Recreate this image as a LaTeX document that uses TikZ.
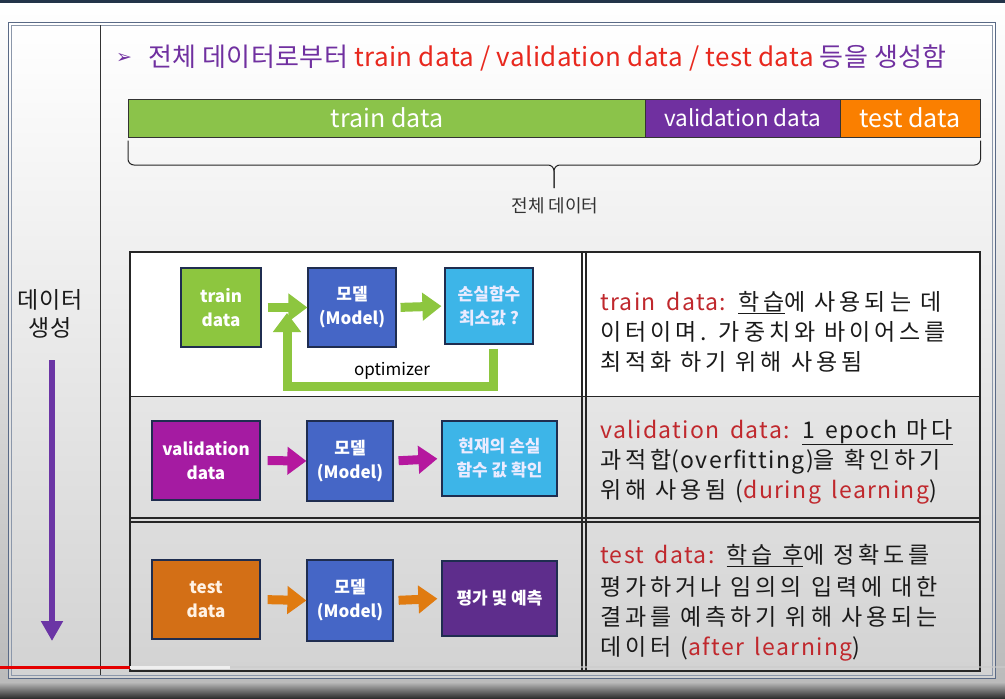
\documentclass[tikz,border=0pt]{standalone}
\usepackage{fontspec}
\setmainfont{Noto Sans CJK KR}
\newfontfamily\ttlf[LetterSpace=1.5]{Noto Sans CJK KR}
\newfontfamily\krw[LetterSpace=17]{Noto Sans CJK KR}
\newfontfamily\krl[LetterSpace=5]{Noto Sans CJK KR}
\newfontfamily\latf[LetterSpace=6,WordSpace=1.6]{Noto Sans CJK KR}
\newfontfamily\symf{DejaVu Sans}
\usetikzlibrary{arrows.meta,calc}
\definecolor{frameC}{HTML}{5A6A86}
\definecolor{topline}{HTML}{233449}
\definecolor{ttlpurple}{HTML}{7030A0}
\definecolor{ttlred}{HTML}{E8281E}
\definecolor{rred}{HTML}{C0282D}
\definecolor{barGreen}{HTML}{8BC34A}
\definecolor{barPurple}{HTML}{7030A0}
\definecolor{barOrange}{HTML}{FA7F00}
\definecolor{bxGreen}{HTML}{8DC63F}
\definecolor{bxBlue}{HTML}{4566C6}
\definecolor{bxLight}{HTML}{3DB5E8}
\definecolor{bxMag}{HTML}{A51BA2}
\definecolor{bxOrange}{HTML}{D36F16}
\definecolor{bxViolet}{HTML}{5E2D8C}
\definecolor{boxline}{HTML}{1F2D50}
\definecolor{arGreen}{HTML}{8DC63F}
\definecolor{arMag}{HTML}{B5179E}
\definecolor{arOrange}{HTML}{E07B10}
\definecolor{leftPurple}{HTML}{6B35A5}
\definecolor{txt}{HTML}{1A1A1A}
\begin{document}
\begin{tikzpicture}[x=1pt,y=-1pt,
  box/.style={draw=boxline, line width=1.2pt, inner sep=0pt, text=white, align=center,
    font=\bfseries\fontsize{17}{24}\selectfont},
  barbox/.style={draw=black!80, line width=1pt, inner sep=0pt, text=white,
    font=\fontsize{25}{28}\selectfont},
  flow/.style={line width=9pt, -{Triangle[length=19pt,width=27pt]}},
  desc/.style={anchor=base west, inner sep=0pt, text=txt, font=\krw\fontsize{23}{26}\selectfont},
  tline/.style={draw=black!85, line width=1.3pt}
]
\useasboundingbox (0,0) rectangle (1005,699);
% canvas
\shade[top color=white, bottom color=gray!55] (0,0) rectangle (1005,699);
\fill[topline] (0,0) rectangle (1005,2.5);
% slide
\shade[top color=white, bottom color=gray!35] (8,22) rectangle (995,678);
\draw[frameC, line width=1pt] (8,22) rectangle (995,678);
\draw[frameC!70, line width=0.8pt] (11,25) rectangle (992,675);
\draw[black!80, line width=1pt] (100,25) -- (100,675);
% bottom band
\shade[top color=gray!60, bottom color=gray!30!black] (0,683) rectangle (1005,699);

% title
\node[anchor=west, inner sep=0pt, text=ttlpurple, font=\symf\fontsize{19}{22}\selectfont] (bul) at (116,58) {➢};
\node[anchor=west, inner sep=0pt, font=\ttlf\fontsize{26}{30}\selectfont] (title) at (148,58)
  {\textcolor{ttlpurple}{전체 데이터로부터} \textcolor{ttlred}{train data / validation data / test data} \textcolor{ttlpurple}{등을 생성함}};

% data bar
\node[barbox, fill=barGreen, minimum width=517pt, minimum height=38pt] (bt) at (387,118) {train data};
\node[barbox, fill=barPurple, minimum width=195pt, minimum height=38pt, font=\fontsize{22.5}{28}\selectfont] (bv) at (742.5,118) {validation data};
\node[barbox, fill=barOrange, minimum width=140pt, minimum height=38pt] (bs) at (910,118) {test data};
% brace
\draw[black!85, line width=1pt, rounded corners=6pt] (bt.south west) ++(0,3) |- (554,165) -- (554,188);
\draw[black!85, line width=1pt, rounded corners=6pt] (bs.south east) ++(0,3) |- (554,165) -- (554,188);
\node[text=black!80, font=\fontsize{18}{20}\selectfont] (whole) at (555,206) {전체 데이터};

% table
\fill[white] (130,252) rectangle (980,396);
\draw[tline] (130,252) rectangle (980,671);
\draw[tline] (582,252) -- (582,671);
\draw[tline] (586,252) -- (586,671);
\draw[tline] (130,396.5) -- (980,396.5);
\draw[tline] (130,518) -- (980,518);
\draw[tline] (130,522) -- (980,522);

% left column
\node[text=txt, font=\krl\fontsize{23}{26}\selectfont] (l1) at (50,300) {데이터};
\node[text=txt, font=\krl\fontsize{23}{26}\selectfont] (l2) at (50,328) {생성};
\coordinate (ga) at (52,360);
\coordinate (gb) at (52,641);
\draw[leftPurple, line width=5.5pt, -{Triangle[length=20pt,width=21pt]}] (ga) -- (gb);

% row 1
\node[box, fill=bxGreen, minimum width=80pt, minimum height=79pt] (tr) at (221,307.5) {train\\data};
\node[box, fill=bxBlue, minimum width=88pt, minimum height=79pt] (m1) at (352,307.5) {모델\\(Model)};
\node[box, fill=bxLight, minimum width=88pt, minimum height=76pt, text=white!92!blue] (ls) at (489,306) {손실함수\\최소값 ?};
\draw[flow, arGreen, shorten <=6pt] (tr.east) -- (m1.west);
\draw[flow, arGreen, shorten <=4pt, shorten >=3pt] (m1.east) -- (ls.west);
\coordinate (fbc) at (493,386);
\coordinate (fbend) at (287,313);
\draw[flow, arGreen, line join=miter] ($(ls.south)+(4,4)$) -- (fbc) -| (fbend);
\node[text=black, font=\fontsize{17}{20}\selectfont] (opt) at (392,371) {optimizer};

% row 2
\node[box, fill=bxMag, minimum width=108pt, minimum height=79pt] (va) at (206,460.5) {validation\\data};
\node[box, fill=bxBlue, minimum width=86pt, minimum height=80pt] (m2) at (350,461) {모델\\(Model)};
\node[box, fill=bxLight, minimum width=115pt, minimum height=75pt, text=white!92!blue] (cur) at (499.5,458.5) {현재의 손실\\함수 값 확인};
\draw[flow, arMag, shorten <=7pt] (va.east) -- (m2.west);
\draw[flow, arMag, shorten <=5pt, shorten >=4pt] (m2.east) -- (cur.west);

% row 3
\node[box, fill=bxOrange, minimum width=108pt, minimum height=79pt, text=white!90!orange] (te) at (206,599.5) {test\\data};
\node[box, fill=bxBlue, minimum width=86pt, minimum height=81pt] (m3) at (350,600.5) {모델\\(Model)};
\node[box, fill=bxViolet, minimum width=115pt, minimum height=75pt] (ev) at (499.5,598.5) {평가 및 예측};
\draw[flow, arOrange, shorten <=7pt] (te.east) -- (m3.west);
\draw[flow, arOrange, shorten <=5pt, shorten >=4pt] (m3.east) -- (ev.west);

% descriptions
\node[desc] (d11) at (600,310) {{\latf\textcolor{rred}{train data:}} \underline{학습}에 사용되는 데};
\node[desc] (d12) at (600,340) {이터이며. 가중치와 바이어스를};
\node[desc] (d13) at (600,370) {최적화 하기 위해 사용됨};
\node[desc] (d21) at (600,438) {{\latf\textcolor{rred}{validation data:}} \underline{{\latf 1 epoch} 마다}};
\node[desc] (d22) at (600,468) {과적합{\latf(overfitting)}을 확인하기};
\node[desc] (d23) at (600,498) {위해 사용됨 {\latf(\textcolor{rred}{during learning})}};
\node[desc] (d31) at (600,563) {{\latf\textcolor{rred}{test data:}} \underline{학습 후}에 정확도를};
\node[desc] (d32) at (600,595) {평가하거나 임의의 입력에 대한};
\node[desc] (d33) at (600,625) {결과를 예측하기 위해 사용되는};
\node[desc] (d34) at (600,655) {데이터 {\latf(\textcolor{rred}{after learning})}};

% video progress bar
\fill[red!90!black] (0,665.5) rectangle (130,668.5);
\fill[white!88!gray] (130,665.5) rectangle (230,668.5);
\fill[gray!40, opacity=0.6] (230,666) rectangle (1005,668);
\end{tikzpicture}
\end{document}
